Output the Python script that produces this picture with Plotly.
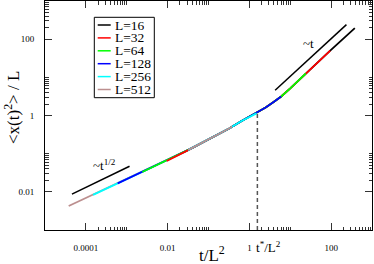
import plotly.graph_objects as go

# ---------------- data ----------------
L_values = [16, 32, 64, 128, 256, 512]
colors = ["#000000", "#ff0000", "#00ff00", "#0000ff", "#00ffff", "#bc8f8f"]

x_L512 = [3.8e-5, 1e-4, 3.2e-4, 1e-3, 3.2e-3, 0.01, 0.032, 0.1, 0.32, 0.38]
y_L512 = [0.00427, 0.00692, 0.0123, 0.0219, 0.0389, 0.0692, 0.126, 0.234, 0.457, 0.513]

x_L256 = [1.5e-4, 3.2e-4, 1e-3, 3.2e-3, 0.01, 0.032, 0.1, 0.32, 0.63, 1.0, 1.5]
y_L256 = [0.0083, 0.0123, 0.0219, 0.0389, 0.0692, 0.126, 0.234, 0.457, 0.708, 0.933, 1.14]

x_L128 = [6e-4, 1e-3, 3.2e-3, 0.01, 0.032, 0.1, 0.32, 0.63, 1.0, 1.6, 2.5, 4.0, 6.0]
y_L128 = [0.0166, 0.0217, 0.0389, 0.0692, 0.126, 0.234, 0.457, 0.708, 0.933, 1.18, 1.62, 2.29, 3.16]

x_L64 = [2.4e-3, 3.2e-3, 0.01, 0.032, 0.1, 0.32, 0.63, 1.0, 1.6, 2.5, 4.0, 6.0, 10, 24]
y_L64 = [0.0330, 0.0385, 0.0692, 0.126, 0.234, 0.457, 0.708, 0.933, 1.18, 1.62, 2.29, 3.16, 5.13, 12.6]

x_L32 = [0.0095, 0.032, 0.1, 0.32, 0.63, 1.0, 1.6, 2.5, 4.0, 6.0, 10, 24, 95]
y_L32 = [0.0640, 0.124, 0.234, 0.457, 0.708, 0.933, 1.18, 1.62, 2.29, 3.16, 5.13, 12.6, 50.1]

x_L16 = [0.038, 0.1, 0.32, 0.63, 1.0, 1.6, 2.5, 4.0, 6.0, 10, 24, 95, 380]
y_L16 = [0.136, 0.234, 0.457, 0.708, 0.933, 1.18, 1.62, 2.29, 3.16, 5.13, 12.6, 50.1, 195]

series_x = {16: x_L16, 32: x_L32, 64: x_L64, 128: x_L128, 256: x_L256, 512: x_L512}
series_y = {16: y_L16, 32: y_L32, 64: y_L64, 128: y_L128, 256: y_L256, 512: y_L512}

# guide lines
guide_t_x = [4.27, 237]
guide_t_y = [4.57, 240]
guide_sqrt_x = [4.57e-5, 1.17e-3]
guide_sqrt_y = [8.71e-3, 0.0468]
t_star = 1.57
t_star_y = [1e-3, 1.17]

x_tickvals = [1e-4, 1e-2, 1, 100]
x_ticktext = ["0.0001", "0.01", "1", "100"]
y_tickvals = [1e-2, 1, 100]
y_ticktext = ["0.01", "1", "100"]
x_major_exp = [-4, -2, 0, 2]
y_major_exp = [-2, 0, 2]

split = 0.032

FONT = "Liberation Serif"

fig = go.Figure()

# early parts: smaller L drawn on top
for L, c in zip(L_values[::-1], colors[::-1]):
    xs = [x for x in series_x[L] if x <= split]
    ys = [y for x, y in zip(series_x[L], series_y[L]) if x <= split]
    if xs:
        fig.add_trace(go.Scatter(x=xs, y=ys, mode="lines", line=dict(color=c, width=1.8),
                                 showlegend=False, hoverinfo="skip"))
# late parts: larger L drawn on top
for L, c in zip(L_values, colors):
    xs = [x for x in series_x[L] if x >= split]
    ys = [y for x, y in zip(series_x[L], series_y[L]) if x >= split]
    fig.add_trace(go.Scatter(x=xs, y=ys, mode="lines", line=dict(color=c, width=1.8),
                             showlegend=False, hoverinfo="skip"))

fig.add_trace(go.Scatter(x=guide_t_x, y=guide_t_y, mode="lines",
                         line=dict(color="black", width=1.5), showlegend=False, hoverinfo="skip"))
fig.add_trace(go.Scatter(x=guide_sqrt_x, y=guide_sqrt_y, mode="lines",
                         line=dict(color="black", width=1.5), showlegend=False, hoverinfo="skip"))
fig.add_trace(go.Scatter(x=[t_star, t_star], y=t_star_y, mode="lines",
                         line=dict(color="#555555", width=1.5, dash="4px,3px"), showlegend=False,
                         hoverinfo="skip"))

x_minor = [k * 10 ** e for e in x_major_exp for k in range(2, 11)]
y_minor = [k * 10 ** e for e in y_major_exp for k in range(2, 11)]

axis_common = dict(type="log", showgrid=False, zeroline=False, showline=True, automargin=False,
                   linecolor="black", linewidth=1, mirror="allticks",
                   ticks="inside", ticklen=7, tickwidth=1, tickcolor="#333333",
                   tickfont=dict(family=FONT, size=9, color="black"))

fig.update_xaxes(range=[-5, 3], tickmode="array", tickvals=x_tickvals, ticktext=x_ticktext,
                 minor=dict(tickvals=x_minor, ticks="inside", ticklen=3.5, tickcolor="#333333", showgrid=False),
                 ticklabelstandoff=9, **axis_common)
fig.update_yaxes(range=[-3, 3], tickmode="array", tickvals=y_tickvals, ticktext=y_ticktext,
                 minor=dict(tickvals=y_minor, ticks="inside", ticklen=3.5, tickcolor="#333333", showgrid=False),
                 ticklabelstandoff=8, **axis_common)

# plot area in pixels: x 45..372, y 1..230
def px(xp):
    return (xp - 45) / 327.0

def py(yp):
    return (230 - yp) / 229.0

shapes = []
annotations = []
# manual legend
shapes.append(dict(type="rect", xref="paper", yref="paper", x0=px(94.3), x1=px(154.3),
                   y0=py(97.7), y1=py(17.3), line=dict(color="black", width=1), fillcolor="white",
                   layer="above"))
for i, (L, c) in enumerate(zip(L_values, colors)):
    yy = 25 + 12.9 * i
    shapes.append(dict(type="line", xref="paper", yref="paper", x0=px(97.7), x1=px(110.7),
                       y0=py(yy), y1=py(yy), line=dict(color=c, width=1.5), layer="above"))
    annotations.append(dict(xref="paper", yref="paper", x=px(113), y=py(yy), text=f"L={L}",
                            showarrow=False, xanchor="left", yanchor="middle", height=13,
                            font=dict(family=FONT, size=13.5, color="black")))

annotations.append(dict(x=1.456, y=1.88, xref="x", yref="y", text="~t", showarrow=False,
                        xanchor="center", yanchor="middle", font=dict(family=FONT, size=13, color="black")))
annotations.append(dict(x=-3.88, y=-1.30, xref="x", yref="y", text="~t<sup>1/2</sup>", showarrow=False,
                        xanchor="left", yanchor="middle", font=dict(family=FONT, size=13, color="black")))
annotations.append(dict(xref="paper", yref="paper", x=px(268), y=py(246.5), text="t<sup>*</sup>/L<sup>2</sup>",
                        showarrow=False, xanchor="center", yanchor="middle",
                        font=dict(family=FONT, size=13, color="black")))
annotations.append(dict(xref="paper", yref="paper", x=px(212), y=py(267), text="t/L<sup>2</sup>",
                        showarrow=False, xanchor="center", yanchor="bottom",
                        font=dict(family=FONT, size=17, color="black")))
annotations.append(dict(xref="paper", yref="paper", x=px(12), y=py(108), text="<x(t)<sup>2</sup>> / L",
                        showarrow=False, xanchor="center", yanchor="middle", textangle=-90,
                        font=dict(family=FONT, size=17, color="black")))

fig.update_layout(width=374, height=264, margin=dict(l=45, r=2, t=1, b=34),
                  paper_bgcolor="white", plot_bgcolor="white", showlegend=False,
                  shapes=shapes, annotations=annotations)

fig.write_html("out.html", config={"displayModeBar": False},
               post_script="document.body.style.margin='0px';")
